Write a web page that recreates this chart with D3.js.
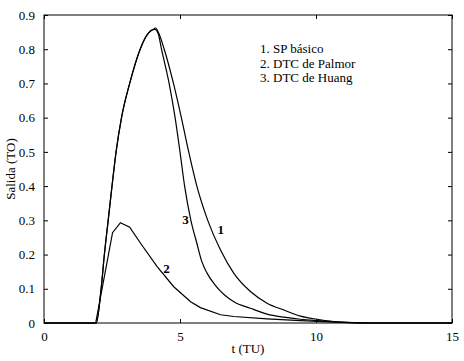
<!DOCTYPE html>
<html>
<head>
<meta charset="utf-8">
<script src="https://cdn.jsdelivr.net/npm/d3@7"></script>
<style>
  body { margin: 0; background: #fff; }
  svg text { font-family: "Times New Roman", "Liberation Serif", "DejaVu Serif", serif; fill: #000; }
</style>
</head>
<body>
<div id="chart"></div>
<script>
// curve 1: SP básico
const tSP = [0, 1.92, 2.1, 2.22, 2.36, 2.5, 2.65, 2.85, 3.15, 3.55, 3.79, 4.0, 4.1, 4.22, 4.42, 4.76, 5.05, 5.32, 5.62, 6.02, 6.49, 6.98, 7.59, 8.2, 8.82, 9.43, 10.04, 11, 12, 15];
const ySP = [0, 0, 0.1, 0.2, 0.3, 0.4, 0.5, 0.6, 0.7, 0.803, 0.842, 0.857, 0.862, 0.847, 0.8, 0.7, 0.6, 0.5, 0.4, 0.3, 0.213, 0.145, 0.092, 0.058, 0.038, 0.02, 0.011, 0.002, 0, 0];

// curve 2: DTC de Palmor
const tPalmor = [0, 1.9, 2.52, 2.81, 3.15, 3.55, 4.16, 4.77, 5.39, 5.75, 6.49, 6.98, 8.2, 9.43, 10.5, 12, 15];
const yPalmor = [0, 0, 0.264, 0.293, 0.28, 0.233, 0.165, 0.106, 0.062, 0.045, 0.024, 0.019, 0.012, 0.007, 0.003, 0, 0];

// curve 3: DTC de Huang
const tHuang = [0, 1.92, 2.1, 2.22, 2.36, 2.5, 2.65, 2.85, 3.15, 3.55, 3.79, 3.98, 4.08, 4.2, 4.32, 4.6, 4.82, 5.0, 5.17, 5.4, 5.62, 5.8, 6.0, 6.3, 6.98, 7.59, 8.2, 8.82, 9.43, 10.04, 11, 12, 15];
const yHuang = [0, 0, 0.1, 0.2, 0.3, 0.4, 0.5, 0.6, 0.7, 0.803, 0.842, 0.857, 0.858, 0.845, 0.8, 0.7, 0.6, 0.5, 0.4, 0.3, 0.233, 0.18, 0.145, 0.11, 0.062, 0.043, 0.026, 0.017, 0.011, 0.007, 0.002, 0, 0];

const xTicks = [0, 5, 10, 15];
const yTicks = [0, 0.1, 0.2, 0.3, 0.4, 0.5, 0.6, 0.7, 0.8, 0.9];
const legendLines = ["1. SP básico", "2. DTC de Palmor", "3. DTC de Huang"];
const curveLabels = [
  { text: "1", t: 6.5, v: 0.26 },
  { text: "2", t: 4.5, v: 0.145 },
  { text: "3", t: 5.2, v: 0.29 }
];

const width = 464, height = 361;
const margin = { top: 15, right: 12, bottom: 38, left: 44 };
const serif = '"Times New Roman", "Liberation Serif", "DejaVu Serif", serif';

const svg = d3.select("#chart").append("svg")
  .attr("width", width)
  .attr("height", height);

const x = d3.scaleLinear().domain([0, 15]).range([margin.left, width - margin.right]);
const y = d3.scaleLinear().domain([0, 0.9]).range([height - margin.bottom, margin.top]);

const tickLen = 4;

// box
svg.append("rect")
  .attr("x", x(0)).attr("y", y(0.9))
  .attr("width", x(15) - x(0)).attr("height", y(0) - y(0.9))
  .attr("fill", "none").attr("stroke", "#000").attr("stroke-width", 1);

const ax = svg.append("g");
const bottomAxis = d3.axisBottom(x).tickValues(xTicks).tickSize(-tickLen).tickPadding(9).tickFormat(d3.format("d"));
const topAxis = d3.axisTop(x).tickValues(xTicks).tickSize(-tickLen).tickFormat("");
const leftAxis = d3.axisLeft(y).tickValues(yTicks).tickSize(-tickLen).tickPadding(9).tickFormat(d => d === 0 ? "0" : d3.format(".1f")(d));
const rightAxis = d3.axisRight(y).tickValues(yTicks).tickSize(-tickLen).tickFormat("");

[[bottomAxis, `translate(0,${y(0)})`], [topAxis, `translate(0,${y(0.9)})`],
 [leftAxis, `translate(${x(0)},0)`], [rightAxis, `translate(${x(15)},0)`]].forEach(([a, tr]) => {
  const g = ax.append("g").attr("transform", tr).call(a);
  g.attr("font-family", serif);
  g.select(".domain").remove();
  g.selectAll("line").attr("stroke", "#000");
  g.selectAll("text").style("font-family", serif).style("font-size", "13px").attr("fill", "#000");
});

const smooth = d3.line().x(d => x(d[0])).y(d => y(d[1])).curve(d3.curveMonotoneX);
const straight = d3.line().x(d => x(d[0])).y(d => y(d[1]));
const series = [
  { pts: d3.zip(tSP, ySP), gen: smooth },
  { pts: d3.zip(tPalmor, yPalmor), gen: straight },
  { pts: d3.zip(tHuang, yHuang), gen: smooth }
];
svg.selectAll("path.curve")
  .data(series)
  .enter()
  .append("path")
  .attr("class", "curve")
  .attr("d", d => d.gen(d.pts))
  .attr("fill", "none")
  .attr("stroke", "#000")
  .attr("stroke-width", 1.2);

svg.selectAll("text.clabel")
  .data(curveLabels)
  .enter()
  .append("text")
  .attr("class", "clabel")
  .attr("x", d => x(d.t))
  .attr("y", d => y(d.v))
  .attr("text-anchor", "middle")
  .style("font-family", serif)
  .style("font-size", "13px")
  .style("font-weight", "bold")
  .text(d => d.text);

svg.selectAll("text.leg")
  .data(legendLines)
  .enter()
  .append("text")
  .attr("class", "leg")
  .attr("x", 260)
  .attr("y", (d, i) => 53 + i * 14.5)
  .style("font-family", serif)
  .style("font-size", "13px")
  .text(d => d);

svg.append("text")
  .attr("x", (x(0) + x(15)) / 2)
  .attr("y", 353)
  .attr("text-anchor", "middle")
  .style("font-family", serif)
  .style("font-size", "13px")
  .text("t (TU)");

svg.append("text")
  .attr("transform", `translate(15,${(y(0) + y(0.9)) / 2}) rotate(-90)`)
  .attr("text-anchor", "middle")
  .style("font-family", serif)
  .style("font-size", "13px")
  .text("Salida (TO)");
</script>
</body>
</html>
